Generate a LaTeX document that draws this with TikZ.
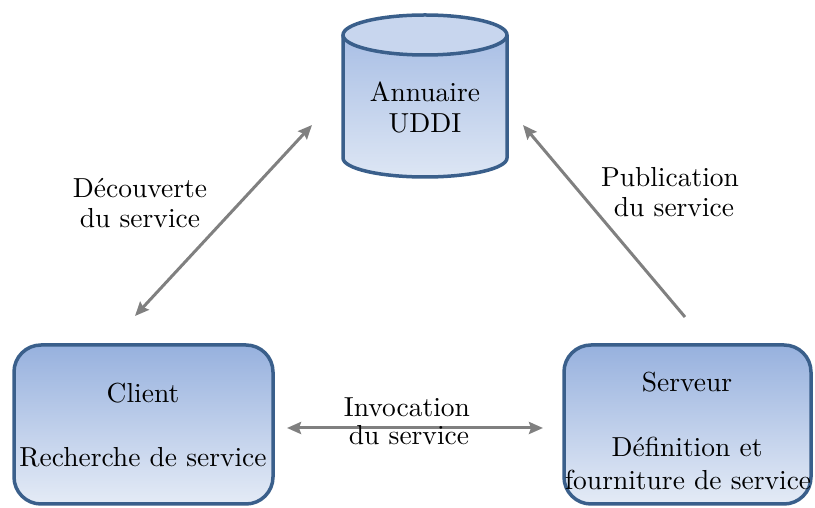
\documentclass[tikz,border=0pt]{standalone}
\usepackage{fontspec}
\setmainfont{lmroman10-regular.otf}
\usetikzlibrary{arrows.meta}
\definecolor{bordercol}{HTML}{3A5F8B}
\definecolor{filltop}{HTML}{97B1DE}
\definecolor{fillbot}{HTML}{E4EBF6}
\definecolor{cyltopc}{HTML}{C8D6EE}
\definecolor{cylbodytop}{HTML}{A9BFE5}
\definecolor{cylbodybot}{HTML}{DDE6F4}
\definecolor{arrowcol}{HTML}{808080}
\tikzset{
  boxnode/.style={draw=bordercol, line width=3.5pt, rounded corners=27pt,
    top color=filltop, bottom color=fillbot, inner sep=0pt},
  txt/.style={anchor=base, inner sep=0pt, font=\fontsize{27.5}{33}\selectfont},
  link/.style={draw=arrowcol, line width=3pt},
  tipb/.tip={Stealth[length=14pt,width=12pt,inset=2pt]},
}
\begin{document}
\begin{tikzpicture}[x=1pt,y=1pt]
\useasboundingbox (0,0) rectangle (815,508);
% cylinder (UDDI directory)
\path[top color=cylbodytop, bottom color=cylbodybot]
  (343,473) -- (343,350) arc[start angle=180,end angle=360,x radius=82,y radius=19] -- (507,473) -- cycle;
\fill[cyltopc] (425,473) ellipse[x radius=82,y radius=20];
\draw[draw=bordercol, line width=3.5pt]
  (343,473) -- (343,350) arc[start angle=180,end angle=360,x radius=82,y radius=19] -- (507,473);
\draw[draw=bordercol, line width=3.5pt] (425,473) ellipse[x radius=82,y radius=20];
\node[txt] (uddi1) at (425,406) {Annuaire};
\node[txt] (uddi2) at (425,375) {UDDI};
% boxes
\node[boxnode, minimum width=259pt, minimum height=159pt] (client) at (143.5,83.5) {};
\node[boxnode, minimum width=247pt, minimum height=159pt] (serveur) at (687.5,83.5) {};
\node[txt] (c1) at (143,105) {Client};
\node[txt] (c2) at (143,41) {Recherche de service};
\node[txt] (s1) at (687,116) {Serveur};
\node[txt] (s2) at (687,51) {Définition et};
\node[txt] (s3) at (688,18) {fourniture de service};
% arrow end points
\coordinate (dA) at (135,192);
\coordinate (dB) at (312,383);
\coordinate (pA) at (685,191);
\coordinate (pB) at (523,383);
\coordinate (iA) at (287,80);
\coordinate (iB) at (543,80);
\draw[link, {tipb}-{tipb}] (dA) -- (dB);
\draw[link, -{tipb}] (pA) -- (pB);
\draw[link, {tipb}-{tipb}] (iA) -- (iB);
% labels
\node[txt] (d1) at (140,310) {Découverte};
\node[txt] (d2) at (140,280) {du service};
\node[txt] (p1) at (670,321) {Publication};
\node[txt] (p2) at (674,291) {du service};
\node[txt] (i1) at (407,91) {Invocation};
\node[txt] (i2) at (409,63) {du service};
\end{tikzpicture}
\end{document}
